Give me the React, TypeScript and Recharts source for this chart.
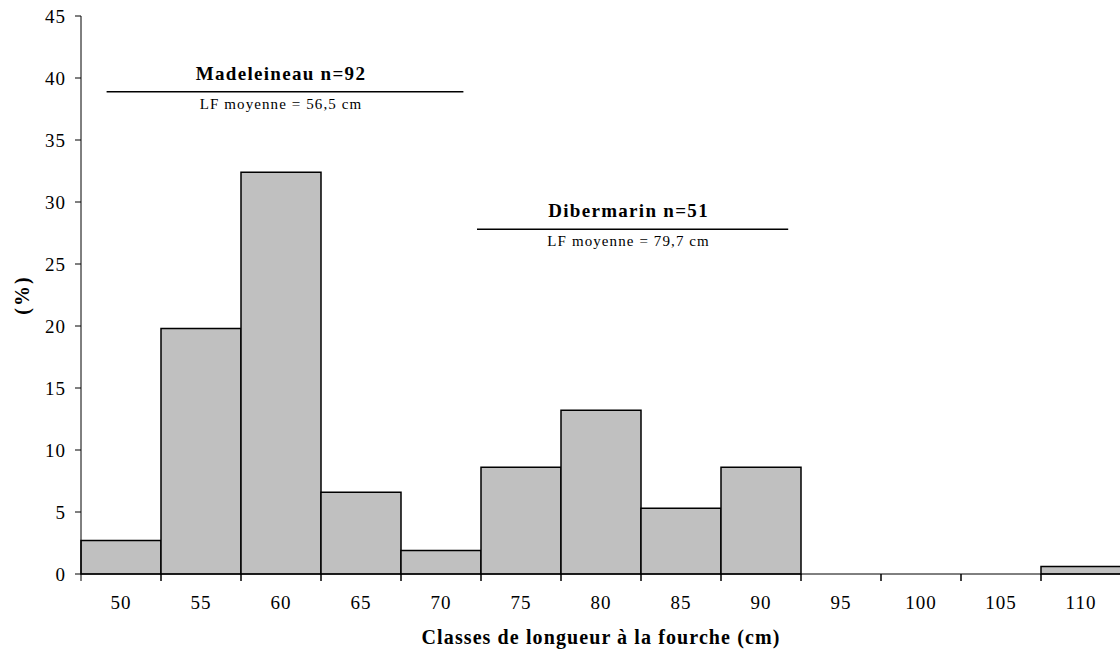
import React from "react";
import {
  BarChart,
  Bar,
  XAxis,
  YAxis,
  ReferenceLine,
  Label,
} from "recharts";

// Length classes (cm) and share of fish (%) per class.
const CLASSES = ["50", "55", "60", "65", "70", "75", "80", "85", "90", "95", "100", "105", "110"];
const PCT = [2.7, 19.8, 32.4, 6.6, 1.9, 8.6, 13.2, 5.3, 8.6, 0, 0, 0, 0.6];
const Y_TICKS = [0, 5, 10, 15, 20, 25, 30, 35, 40, 45];

// Group annotations: title, mean length, underline span (cm) and height (%).
const GROUP_TITLES = ["Madeleineau n=92", "Dibermarin n=51"];
const GROUP_MEANS = ["LF moyenne = 56,5 cm", "LF moyenne = 79,7 cm"];
const GROUP_FROM_CM = [49.1, 72.25];
const GROUP_TO_CM = [71.4, 91.7];
const GROUP_AT_PCT = [38.9, 27.8];

const FONT = '"Liberation Serif", "Times New Roman", serif';
const W = 1125;
const H = 656;
const LEFT = 81;
const RIGHT = 4;
const HALF_BAND = (W - LEFT - RIGHT) / CLASSES.length / 2;

const data = CLASSES.map((c, i) => ({ cls: c, mid: Number(c), pct: PCT[i] }));

function ClassTick(props: any) {
  const { x, y, payload } = props;
  return (
    <g>
      <line x1={x - HALF_BAND} x2={x - HALF_BAND} y1={y} y2={y + 7} stroke="#000" />
      <line x1={x + HALF_BAND} x2={x + HALF_BAND} y1={y} y2={y + 7} stroke="#000" />
      <text x={x} y={y + 35} textAnchor="middle" fontSize={19} letterSpacing={1} fontFamily={FONT} fill="#000">
        {payload.value}
      </text>
    </g>
  );
}

function GroupLabel({ viewBox, title, sub }: any) {
  if (!viewBox) return null;
  const cx = viewBox.x + viewBox.width / 2 - 4;
  const y = viewBox.y;
  return (
    <g fontFamily={FONT} fill="#000">
      <text x={cx} y={y - 12} textAnchor="middle" fontSize={19} fontWeight="bold" letterSpacing={1.3}>
        {title}
      </text>
      <text x={cx} y={y + 17} textAnchor="middle" fontSize={15} letterSpacing={1.1}>
        {sub}
      </text>
    </g>
  );
}

export default function App() {
  return (
    <div style={{ position: "absolute", left: 0, top: 0, width: 1120, height: H, overflow: "hidden", background: "#fff" }}>
      <BarChart
        width={W}
        height={H}
        data={data}
        margin={{ top: 16, right: RIGHT, bottom: 0, left: 0 }}
        barCategoryGap={0}
        barGap={0}
      >
        <XAxis
          dataKey="cls"
          height={82}
          interval={0}
          tickLine={false}
          tickSize={0}
          tickMargin={0}
          axisLine={{ stroke: "#000" }}
          tick={(p: any) => <ClassTick {...p} />}
        >
          <Label
            content={({ viewBox }: any) => (
              <text
                x={viewBox.x + viewBox.width / 2}
                y={viewBox.y + 70}
                textAnchor="middle"
                fontSize={20}
                fontWeight="bold"
                letterSpacing={1.1}
                fontFamily={FONT}
                fill="#000"
              >
                Classes de longueur à la fourche (cm)
              </text>
            )}
          />
        </XAxis>
        <XAxis
          xAxisId="cm"
          dataKey="mid"
          type="number"
          domain={[47.5, 112.5]}
          allowDataOverflow
          hide
        />
        <YAxis
          width={LEFT}
          domain={[0, 45]}
          ticks={Y_TICKS}
          interval={0}
          tickSize={6}
          tickMargin={9}
          tickLine={{ stroke: "#000" }}
          axisLine={{ stroke: "#000" }}
          tick={{ fontSize: 19, letterSpacing: 1, fontFamily: FONT, fill: "#000" }}
        >
          <Label
            content={({ viewBox }: any) => {
              const cx = 22;
              const cy = viewBox.y + viewBox.height / 2;
              return (
                <text
                  x={cx}
                  y={cy}
                  transform={`rotate(-90 ${cx} ${cy})`}
                  textAnchor="middle"
                  dominantBaseline="central"
                  fontSize={20}
                  fontWeight="bold"
                  letterSpacing={2}
                  fontFamily={FONT}
                  fill="#000"
                >
                  (%)
                </text>
              );
            }}
          />
        </YAxis>
        <Bar
          dataKey="pct"
          fill="#C0C0C0"
          stroke="#000"
          strokeWidth={1.5}
          isAnimationActive={false}
        />
        {GROUP_TITLES.map((t, i) => (
          <ReferenceLine
            key={t}
            xAxisId="cm"
            ifOverflow="visible"
            segment={[
              { x: GROUP_FROM_CM[i], y: GROUP_AT_PCT[i] },
              { x: GROUP_TO_CM[i], y: GROUP_AT_PCT[i] },
            ]}
            stroke="#000"
            strokeWidth={1.5}
            label={(p: any) => <GroupLabel {...p} title={t} sub={GROUP_MEANS[i]} />}
          />
        ))}
      </BarChart>
    </div>
  );
}
